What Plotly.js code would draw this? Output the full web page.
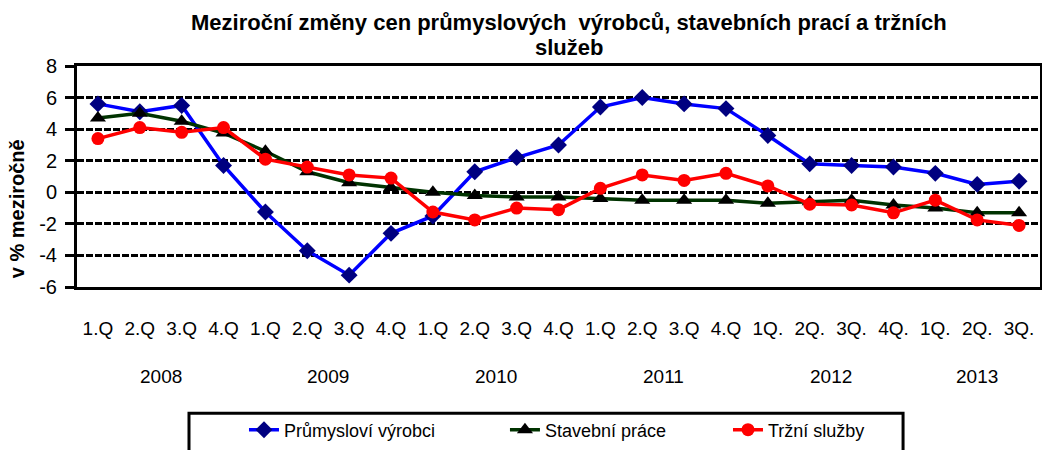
<!DOCTYPE html>
<html>
<head>
<meta charset="utf-8">
<script src="https://cdn.plot.ly/plotly-3.0.1.min.js"></script>
<style>html,body{margin:0;padding:0;background:#fff;}#chart{width:1042px;height:450px;}</style>
</head>
<body>
<div id="chart"></div>
<script>
const quarterLabels = ["1.Q","2.Q","3.Q","4.Q","1.Q","2.Q","3.Q","4.Q","1.Q","2.Q","3.Q","4.Q","1.Q","2.Q","3.Q","4.Q","1Q.","2Q.","3Q.","4Q.","1Q.","2Q.","3Q."];
const years = ["2008","2009","2010","2011","2012","2013"];
const yearQuarterCounts = [4,4,4,4,4,3];
const yTickVals = [-6,-4,-2,0,2,4,6,8];
const yTickText = ["-6","-4","-2","0","2","4","6","8"];

const prumysl = [5.6,5.1,5.5,1.7,-1.25,-3.7,-5.25,-2.6,-1.5,1.3,2.2,3.0,5.4,6.0,5.6,5.3,3.6,1.8,1.7,1.6,1.2,0.5,0.7];
const stavebni = [4.7,5.0,4.5,3.75,2.6,1.3,0.6,0.3,0.0,-0.2,-0.3,-0.3,-0.4,-0.5,-0.5,-0.5,-0.7,-0.6,-0.5,-0.8,-1.0,-1.3,-1.3];
const trzni = [3.4,4.1,3.8,4.1,2.1,1.6,1.1,0.9,-1.25,-1.75,-1.0,-1.1,0.25,1.1,0.75,1.2,0.4,-0.75,-0.8,-1.3,-0.5,-1.75,-2.1];

const seriesNames = ["Průmysloví výrobci","Stavební práce","Tržní služby"];
const titleLines = ["Meziroční změny cen průmyslových  výrobců, stavebních prací a tržních", "služeb"];
const yTitle = "v % meziročně";

const xs = quarterLabels.map((_, i) => i);
const FONT = "Liberation Sans, Arial, sans-serif";

const traces = [
  {x: xs, y: prumysl, name: seriesNames[0], type: "scatter", mode: "lines+markers", legend: "legend",
   line: {color: "#0000FF", width: 3.5}, marker: {symbol: "diamond", size: 13, color: "#000080"}},
  {x: xs, y: stavebni, name: seriesNames[1], type: "scatter", mode: "lines+markers", legend: "legend2",
   line: {color: "#003300", width: 3.5}, marker: {symbol: "triangle-up", size: 14, color: "#000000"}},
  {x: xs, y: trzni, name: seriesNames[2], type: "scatter", mode: "lines+markers", legend: "legend3",
   line: {color: "#FF0000", width: 3.5}, marker: {symbol: "circle", size: 13, color: "#FF0000"}}
];

const annotations = [];
let start = 0;
years.forEach((yr, k) => {
  const n = yearQuarterCounts[k];
  annotations.push({x: start + (n - 1) / 2, y: -0.406, xref: "x", yref: "paper", text: yr,
    showarrow: false, yanchor: "middle", font: {family: FONT, size: 19, color: "#000"}});
  start += n;
});
annotations.push({x: -0.062, y: 0.353, xref: "paper", yref: "paper", text: "<b>" + yTitle + "</b>",
  textangle: -90, showarrow: false, xanchor: "center", yanchor: "middle",
  font: {family: FONT, size: 20, color: "#000"}});
const titleY = [1.196, 1.085];
titleLines.forEach((t, i) => {
  annotations.push({x: 0.511, y: titleY[i], xref: "paper", yref: "paper", text: "<b>" + t + "</b>",
    showarrow: false, xanchor: "center", yanchor: "middle",
    font: {family: FONT, size: 22, color: "#000"}});
});

const legendBase = {orientation: "h", yanchor: "middle", y: -0.647, xanchor: "left",
  borderwidth: 0, bgcolor: "rgba(0,0,0,0)", font: {family: FONT, size: 18, color: "#000"}};

const layout = {
  width: 1042, height: 450,
  margin: {l: 77, r: 2, t: 66, b: 160},
  paper_bgcolor: "#fff", plot_bgcolor: "#fff",
  font: {family: FONT, size: 18, color: "#000"},
  showlegend: true,
  legend: Object.assign({}, legendBase, {x: 0.1734}),
  legend2: Object.assign({}, legendBase, {x: 0.4444}),
  legend3: Object.assign({}, legendBase, {x: 0.676}),
  shapes: [{type: "rect", xref: "paper", yref: "paper", x0: 0.1163, x1: 0.8578, y0: -0.571, y1: -0.75,
    line: {color: "#000", width: 3}, fillcolor: "rgba(0,0,0,0)", layer: "below"}],
  xaxis: {range: [-0.5, 22.5], tickmode: "array", tickvals: xs, ticktext: quarterLabels,
    showgrid: false, zeroline: false, showline: true, linecolor: "#000", linewidth: 3, mirror: true,
    ticks: "", ticklabelstandoff: 22, tickfont: {family: FONT, size: 19, color: "#000"}},
  yaxis: {range: [-6, 8], tickmode: "array", tickvals: yTickVals, ticktext: yTickText,
    showgrid: true, gridcolor: "#000", gridwidth: 3,
    griddash: "7px,2px", zeroline: false, showline: true, linecolor: "#000", linewidth: 3, mirror: true,
    ticks: "outside", ticklen: 9, tickwidth: 3, tickcolor: "#000", ticklabelstandoff: 4,
    tickfont: {family: FONT, size: 20, color: "#000"}},
  annotations: annotations
};

Plotly.newPlot("chart", traces, layout, {displayModeBar: false, staticPlot: true});
</script>
</body>
</html>
